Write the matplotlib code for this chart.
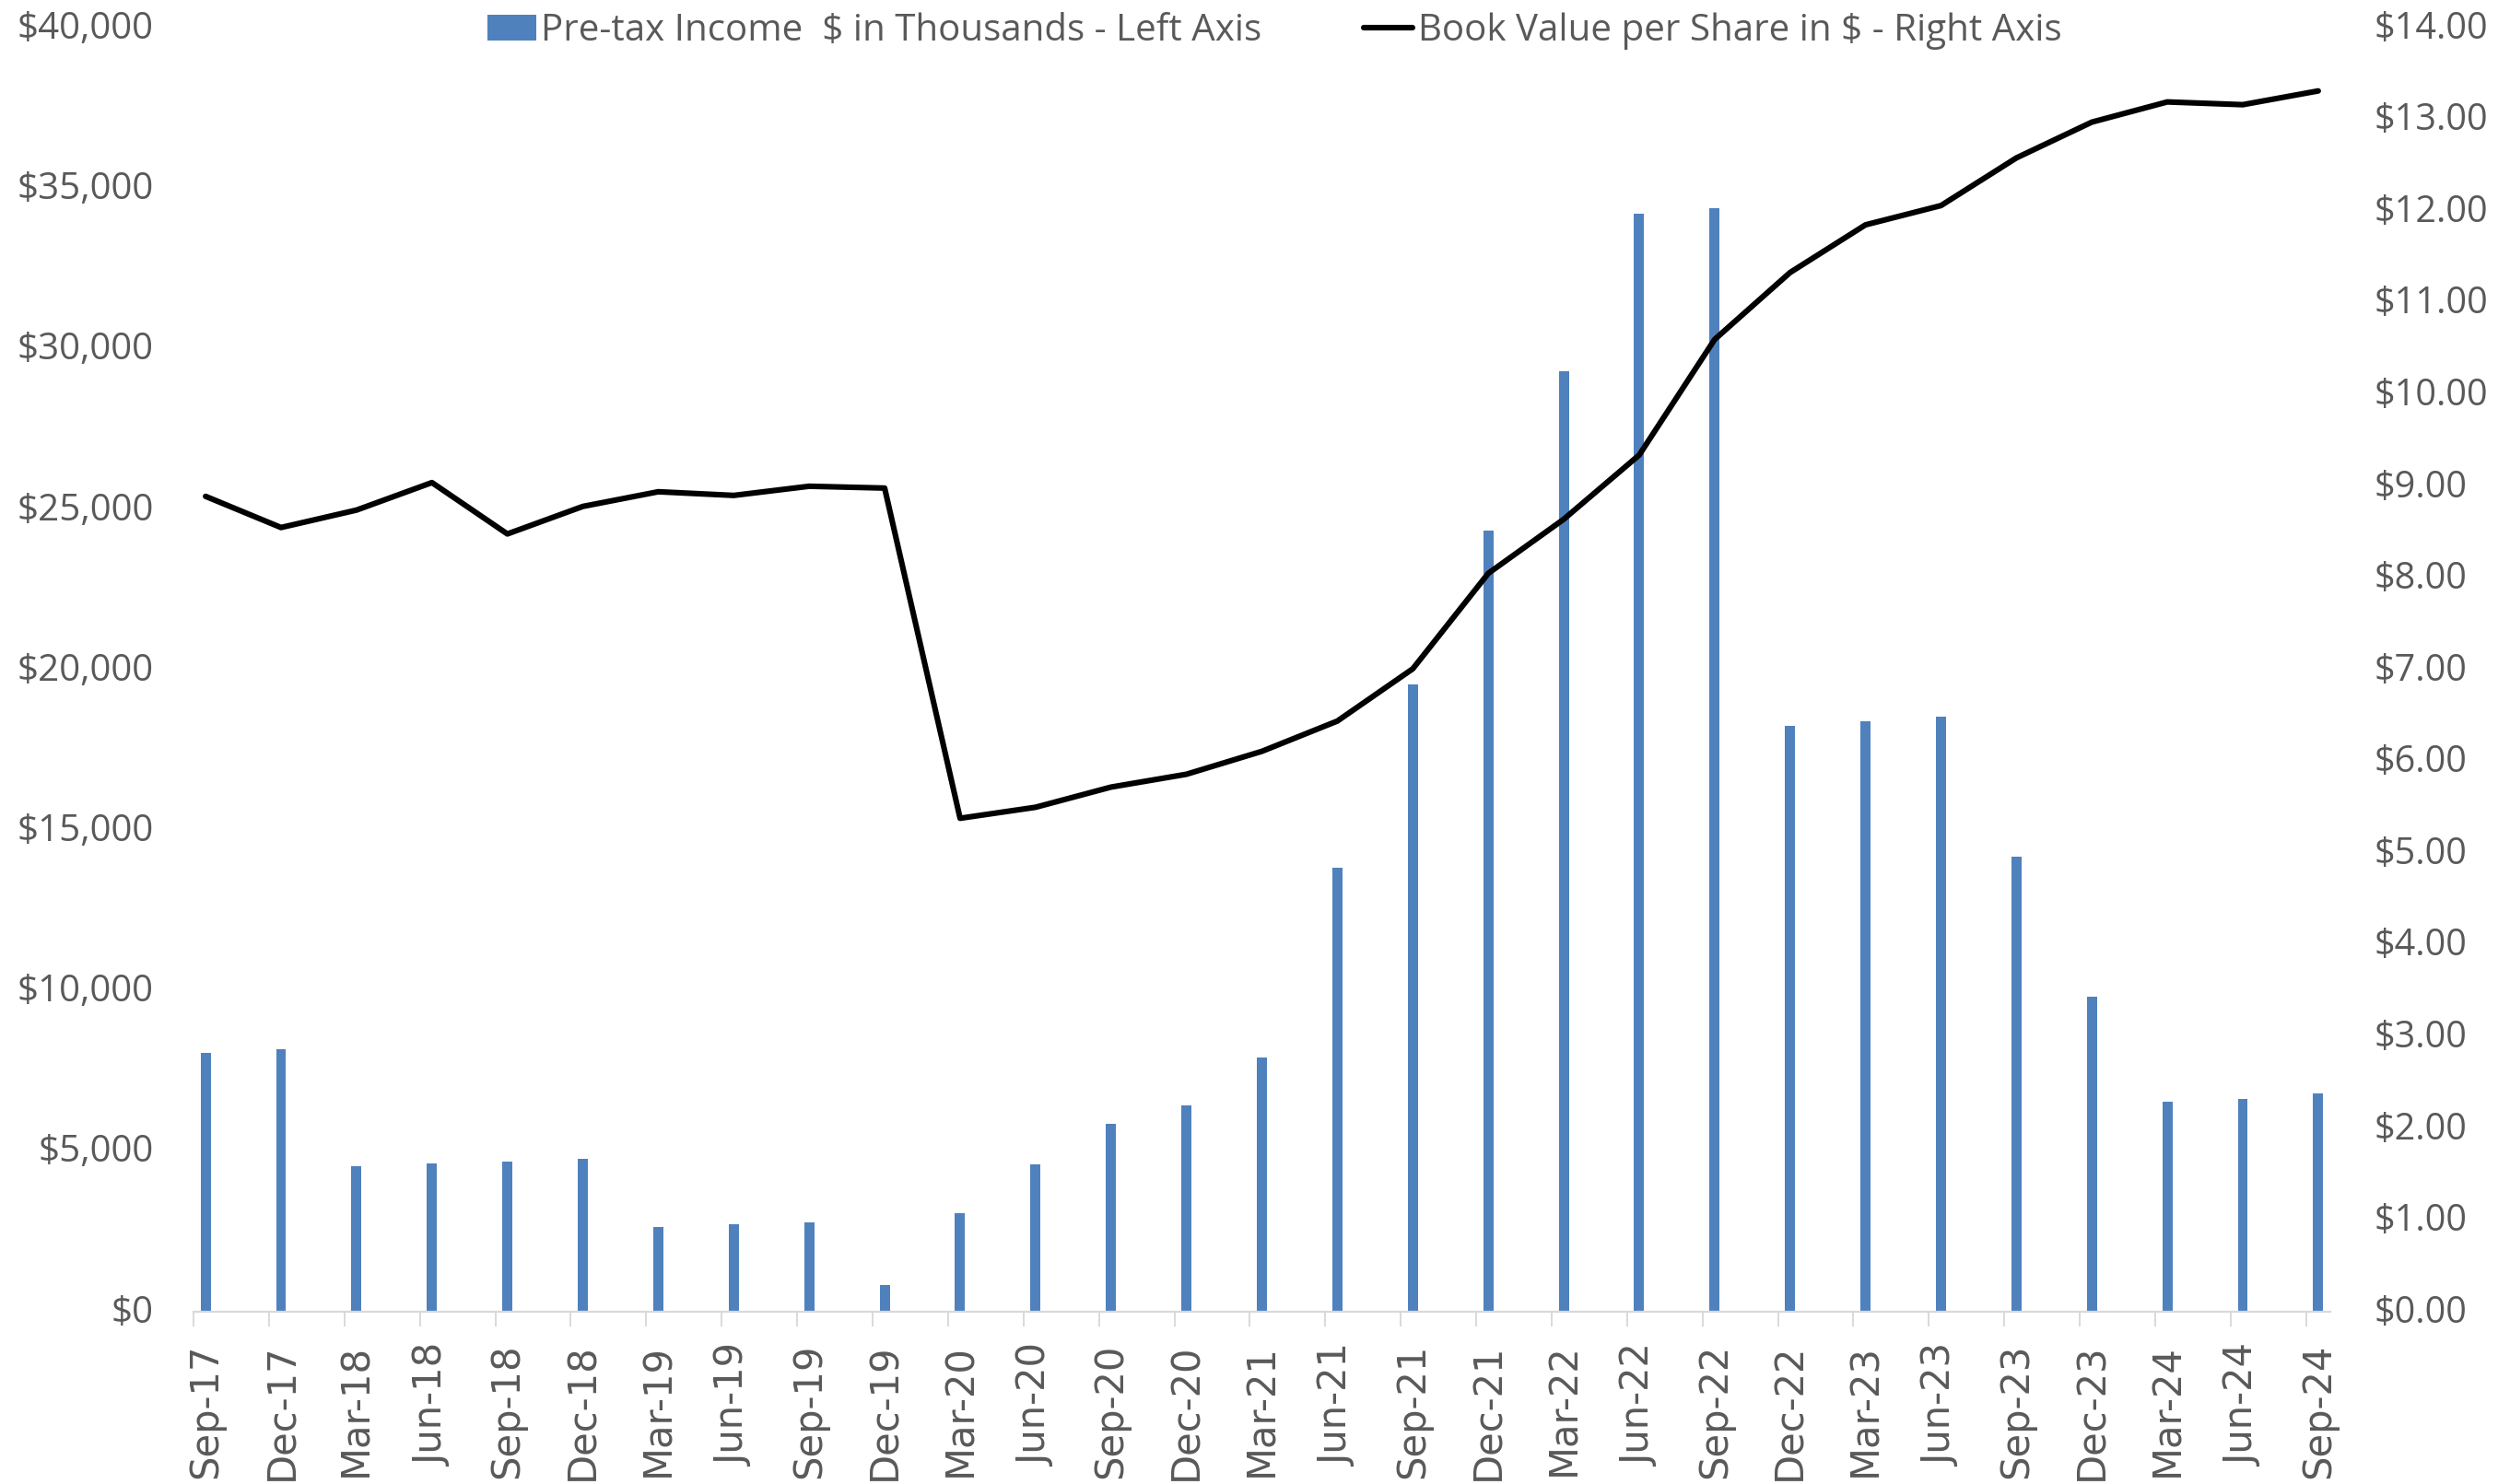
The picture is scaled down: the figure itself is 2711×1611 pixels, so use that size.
import matplotlib
matplotlib.use("Agg")
import matplotlib.pyplot as plt
from matplotlib.ticker import FuncFormatter, FixedLocator
from matplotlib.patches import Patch
from matplotlib.lines import Line2D
from matplotlib.transforms import ScaledTranslation
import numpy as np

quarters = ["Sep-17", "Dec-17", "Mar-18", "Jun-18", "Sep-18", "Dec-18",
            "Mar-19", "Jun-19", "Sep-19", "Dec-19", "Mar-20", "Jun-20",
            "Sep-20", "Dec-20", "Mar-21", "Jun-21", "Sep-21", "Dec-21",
            "Mar-22", "Jun-22", "Sep-22", "Dec-22", "Mar-23", "Jun-23",
            "Sep-23", "Dec-23", "Mar-24", "Jun-24", "Sep-24"]

pretax_income = [8070, 8180, 4530, 4610, 4680, 4750, 2640, 2720, 2770, 830,
                 3070, 4600, 5850, 6440, 7930, 13830, 19530, 24340, 29310,
                 34200, 34370, 18240, 18390, 18540, 14180, 9810, 6540, 6640,
                 6790]

book_value = [8.89, 8.55, 8.74, 9.04, 8.48, 8.78, 8.94, 8.90, 9.00, 8.98,
              5.38, 5.50, 5.72, 5.86, 6.11, 6.44, 7.01, 8.05, 8.64, 9.34,
              10.60, 11.33, 11.85, 12.06, 12.58, 12.97, 13.19, 13.16, 13.31]

left_ticks = list(range(0, 40001, 5000))
right_ticks = list(range(0, 15))

bar_label = "Pre-tax Income  $ in Thousands - Left Axis"
line_label = "Book Value per Share in $ - Right Axis"

BAR_COLOR = "#4F81BD"
TEXT_COLOR = "#595959"
AXIS_COLOR = "#D9D9D9"

W, H = 2711, 1611
fig = plt.figure(figsize=(W / 100, H / 100), dpi=100)
left_px, right_px, bottom_px, top_px = 210, 2529, 1424, 30
ax = fig.add_axes([left_px / W, (H - bottom_px) / H,
                   (right_px - left_px) / W, (bottom_px - top_px) / H])

n = len(quarters)
offset = 0.16
x = np.arange(n) + offset

ax.bar(x, pretax_income, width=0.134, color=BAR_COLOR, zorder=2)
ax.set_xlim(0, 28.32)
ax.set_ylim(0, 40000)
ax.yaxis.set_major_locator(FixedLocator(left_ticks))
ax.yaxis.set_major_formatter(FuncFormatter(lambda v, p: "${:,.0f}".format(v)))

ax2 = ax.twinx()
ax2.plot(x, book_value, color="black", lw=4.4, solid_joinstyle="round",
         solid_capstyle="round", zorder=3)
ax2.set_ylim(0, 14)
ax2.yaxis.set_major_locator(FixedLocator(right_ticks))
ax2.yaxis.set_major_formatter(FuncFormatter(lambda v, p: "${:,.2f}".format(v)))

for a in (ax, ax2):
    for s in ("left", "right", "top"):
        a.spines[s].set_visible(False)
    a.spines["bottom"].set_color(AXIS_COLOR)
    a.spines["bottom"].set_linewidth(1.6)
ax2.spines["bottom"].set_visible(False)

ax.set_xticks(x)
ax.set_xticklabels(quarters, rotation=90, fontsize=30, color=TEXT_COLOR,
                   family=["DejaVu Sans"])
ax.set_xticks(np.arange(n), minor=True)
ax.tick_params(axis="x", which="major", length=0, pad=25)
ax.tick_params(axis="x", which="minor", length=11.5, width=1.4, color=AXIS_COLOR)

ax.tick_params(axis="y", length=0, pad=31, labelsize=29, labelcolor=TEXT_COLOR)
ax2.tick_params(axis="y", length=0, pad=34, labelsize=28.5, labelcolor=TEXT_COLOR)
shift = ScaledTranslation(0, 3.5 / 100, fig.dpi_scale_trans)
for lab in ax.get_yticklabels() + ax2.get_yticklabels():
    lab.set_family(["Open Sans", "DejaVu Sans"])
for a in (ax, ax2):
    for tk in a.yaxis.get_major_ticks():
        tk.label1.set_transform(tk.label1.get_transform() + shift)
        tk.label2.set_transform(tk.label2.get_transform() + shift)

handles = [Patch(facecolor=BAR_COLOR, edgecolor="none"),
           Line2D([0], [0], color="black", lw=4.4, solid_capstyle="round")]
leg = fig.legend(handles, [bar_label, line_label], ncol=2, loc="center left",
                 bbox_to_anchor=(529 / W, 1 - 34 / H), frameon=False,
                 borderpad=0, borderaxespad=0, handlelength=1.32,
                 handletextpad=0.13, columnspacing=2.75,
                 prop={"family": ["Open Sans", "DejaVu Sans"], "size": 29})
for t in leg.get_texts():
    t.set_color(TEXT_COLOR)

fig.savefig("out.png", dpi=100, facecolor="white")
